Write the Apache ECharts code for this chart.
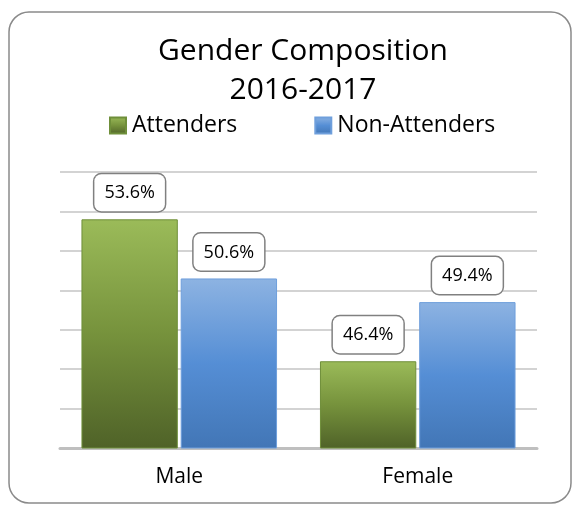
<!DOCTYPE html>
<html>
<head>
<meta charset="utf-8">
<script src="https://cdn.jsdelivr.net/npm/echarts@6/dist/echarts.min.js"></script>
<style>
html, body { margin: 0; padding: 0; background: #fff; }
#main { width: 574px; height: 506px; }
</style>
</head>
<body>
<div id="main"></div>
<script>
var categories = ['Male', 'Female'];
var attenders = [53.6, 46.4];
var nonAttenders = [50.6, 49.4];
var axisMin = 42, axisMax = 56, axisStep = 2;

var fontFam = '"Open Sans", sans-serif';

function grad(stops) {
    return new echarts.graphic.LinearGradient(0, 0, 0, 1, stops);
}

var greenGrad = grad([
    { offset: 0, color: '#9bbb59' },
    { offset: 0.5, color: '#76923c' },
    { offset: 1, color: '#4f6228' }
]);
var blueGrad = grad([
    { offset: 0, color: '#8db3e2' },
    { offset: 0.5, color: '#558ed5' },
    { offset: 1, color: '#4276b6' }
]);

var labelStyle = {
    show: true,
    position: 'top',
    distance: 8,
    formatter: function (p) { return p.value.toFixed(1) + '%'; },
    fontFamily: fontFam,
    fontSize: 18,
    color: '#000',
    backgroundColor: '#fff',
    borderColor: '#808080',
    borderWidth: 1.5,
    borderRadius: 7,
    padding: [10, 10, 9, 10]
};

var myChart = echarts.init(document.getElementById('main'), null, { renderer: 'canvas' });
var option = {
    animation: false,
    title: {
        text: 'Gender Composition\n2016-2017',
        left: 298,
        top: 27,
        textAlign: 'center',
        textStyle: {
            fontFamily: fontFam,
            fontWeight: 'normal',
            fontSize: 30,
            lineHeight: 39,
            color: '#000'
        }
    },
    legend: {
        top: 109,
        left: 104,
        itemGap: 77,
        itemWidth: 16,
        itemHeight: 16,
        icon: 'rect',
        textStyle: { fontFamily: fontFam, fontSize: 23, color: '#000', padding: [0, 0, 0, 1] },
        data: ['Attenders', 'Non-Attenders']
    },
    graphic: [{
        type: 'rect',
        shape: { x: 9, y: 12, width: 562, height: 491, r: 20 },
        style: { fill: 'none', stroke: '#8a8a8a', lineWidth: 1.5 },
        silent: true
    }],
    grid: { left: 60, right: 37, top: 172, bottom: 58 },
    xAxis: {
        type: 'category',
        data: categories,
        axisLine: { lineStyle: { color: '#bfbfbf', width: 3 } },
        axisTick: { show: false },
        axisLabel: { fontFamily: fontFam, fontSize: 21, color: '#000', margin: 19 }
    },
    yAxis: {
        type: 'value',
        min: axisMin,
        max: axisMax,
        interval: axisStep,
        axisLine: { show: false },
        axisTick: { show: false },
        axisLabel: { show: false },
        splitLine: { lineStyle: { color: '#c4c4c4', width: 1.5 } }
    },
    series: [
        {
            name: 'Attenders',
            type: 'bar',
            data: attenders,
            barGap: '3%',
            barCategoryGap: '18%',
            itemStyle: { color: greenGrad, borderColor: '#6f8f3a', borderWidth: 1 },
            label: labelStyle
        },
        {
            name: 'Non-Attenders',
            type: 'bar',
            data: nonAttenders,
            itemStyle: { color: blueGrad, borderColor: '#6f9fdc', borderWidth: 1 },
            label: labelStyle
        }
    ]
};
myChart.setOption(option);
window.addEventListener('resize', myChart.resize);
</script>
</body>
</html>
